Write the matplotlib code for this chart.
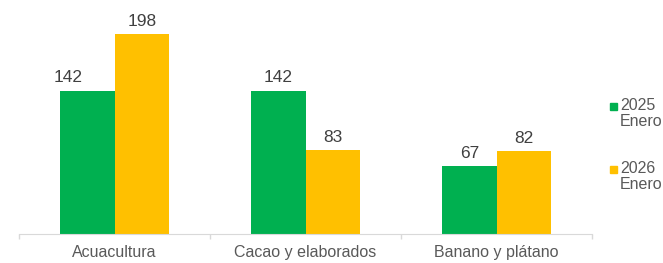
import numpy as np
import matplotlib.pyplot as plt
from matplotlib.patches import Rectangle

categories = ['Acuacultura', 'Cacao y elaborados', 'Banano y plátano']
series_names = ['2025\nEnero', '2026\nEnero']
values_2025 = [142, 142, 67]
values_2026 = [198, 83, 82]
colors = ['#00B050', '#FFC000']
text_color = '#595959'

plt.rcParams['font.family'] = ['Liberation Sans', 'DejaVu Sans']

fig = plt.figure(figsize=(6.63, 2.63), dpi=100)
ax = fig.add_axes([19 / 663, 29 / 263, 573 / 663, 222 / 263])

x = np.arange(len(categories))
w = 0.285
labels = []
for i, vals in enumerate([values_2025, values_2026]):
    bars = ax.bar(x + (i - 0.5) * w, vals, w, color=colors[i], linewidth=0)
    labels.append(ax.bar_label(bars, padding=4, fontsize=12.5, color='#404040'))
# the first label sits left of its bar in the original
labels[0][0].xyann = (-14, 4)

ax.set_xlim(-0.5, len(categories) - 0.5)
ax.set_ylim(0, 220)
ax.set_yticks([])
ax.set_xticks(x)
ax.set_xticklabels(categories, fontsize=11.5, color=text_color)
ax.tick_params(axis='x', which='major', length=0, pad=8)
# category separators below the axis
ax.set_xticks(np.arange(len(categories) + 1) - 0.5, minor=True)
ax.tick_params(axis='x', which='minor', length=3.6, width=1, color='#D9D9D9')
for s in ['top', 'right', 'left']:
    ax.spines[s].set_visible(False)
ax.spines['bottom'].set_color('#D9D9D9')

# legend on the right, square next to the first line
for i, name in enumerate(series_names):
    y = 110 + i * 63
    fig.patches.append(Rectangle((610 / 663, (263 - y) / 263), 7 / 663, 7 / 263,
                                 transform=fig.transFigure, color=colors[i]))
    fig.text(620 / 663, (263 - y + 12) / 263, name, fontsize=11.5, color=text_color,
             va='top', ha='left', linespacing=1.1)

fig.savefig('out.png', dpi=100)
